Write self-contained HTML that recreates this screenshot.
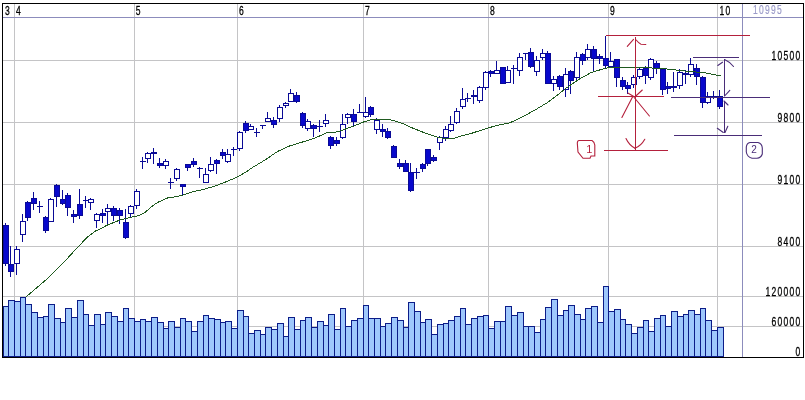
<!DOCTYPE html>
<html><head><meta charset="utf-8"><title>chart</title>
<style>html,body{margin:0;padding:0;background:#fff}svg{display:block}text{font-family:"Liberation Sans",sans-serif}</style></head>
<body>
<svg width="805" height="400" viewBox="0 0 805 400">
<rect width="805" height="400" fill="#fff"/>
<g shape-rendering="crispEdges" stroke="#c4c4c6" stroke-width="1">
<line x1="14.5" y1="4" x2="14.5" y2="357"/>
<line x1="134.5" y1="4" x2="134.5" y2="357"/>
<line x1="237.5" y1="4" x2="237.5" y2="357"/>
<line x1="363.5" y1="4" x2="363.5" y2="357"/>
<line x1="488.5" y1="4" x2="488.5" y2="357"/>
<line x1="608.5" y1="4" x2="608.5" y2="357"/>
<line x1="717.5" y1="4" x2="717.5" y2="357"/>
<line x1="3" y1="60.5" x2="803" y2="60.5"/>
<line x1="3" y1="122.5" x2="803" y2="122.5"/>
<line x1="3" y1="184.5" x2="803" y2="184.5"/>
<line x1="3" y1="246.5" x2="803" y2="246.5"/>
<line x1="3" y1="296.5" x2="803" y2="296.5"/>
<line x1="3" y1="326.5" x2="803" y2="326.5"/>
</g>
<g shape-rendering="crispEdges" stroke="#8c8cbc" stroke-width="1">
<line x1="3" y1="17.5" x2="803" y2="17.5"/><line x1="742.5" y1="4" x2="742.5" y2="357"/>
</g>
<g shape-rendering="crispEdges" fill="#9fc8fc" stroke="#0c1c88" stroke-width="1">
<rect x="3.5" y="306.5" width="5.0" height="50.0"/>
<rect x="8.5" y="300.5" width="6.0" height="56.0"/>
<rect x="14.5" y="301.5" width="6.0" height="55.0"/>
<rect x="20.5" y="297.5" width="5.0" height="59.0"/>
<rect x="25.5" y="304.5" width="6.0" height="52.0"/>
<rect x="31.5" y="312.5" width="6.0" height="44.0"/>
<rect x="37.5" y="317.5" width="6.0" height="39.0"/>
<rect x="43.5" y="316.5" width="5.0" height="40.0"/>
<rect x="48.5" y="304.5" width="6.0" height="52.0"/>
<rect x="54.5" y="318.5" width="6.0" height="38.0"/>
<rect x="60.5" y="322.5" width="5.0" height="34.0"/>
<rect x="65.5" y="308.5" width="6.0" height="48.0"/>
<rect x="71.5" y="317.5" width="6.0" height="39.0"/>
<rect x="77.5" y="300.5" width="6.0" height="56.0"/>
<rect x="83.5" y="314.5" width="5.0" height="42.0"/>
<rect x="88.5" y="325.5" width="6.0" height="31.0"/>
<rect x="94.5" y="314.5" width="6.0" height="42.0"/>
<rect x="100.5" y="324.5" width="5.0" height="32.0"/>
<rect x="105.5" y="312.5" width="6.0" height="44.0"/>
<rect x="111.5" y="316.5" width="6.0" height="40.0"/>
<rect x="117.5" y="321.5" width="6.0" height="35.0"/>
<rect x="123.5" y="308.5" width="5.0" height="48.0"/>
<rect x="128.5" y="318.5" width="6.0" height="38.0"/>
<rect x="134.5" y="321.5" width="6.0" height="35.0"/>
<rect x="140.5" y="319.5" width="5.0" height="37.0"/>
<rect x="145.5" y="321.5" width="6.0" height="35.0"/>
<rect x="151.5" y="317.5" width="6.0" height="39.0"/>
<rect x="157.5" y="322.5" width="6.0" height="34.0"/>
<rect x="163.5" y="328.5" width="5.0" height="28.0"/>
<rect x="168.5" y="321.5" width="6.0" height="35.0"/>
<rect x="174.5" y="327.5" width="6.0" height="29.0"/>
<rect x="180.5" y="318.5" width="5.0" height="38.0"/>
<rect x="185.5" y="321.5" width="6.0" height="35.0"/>
<rect x="191.5" y="331.5" width="6.0" height="25.0"/>
<rect x="197.5" y="321.5" width="6.0" height="35.0"/>
<rect x="203.5" y="315.5" width="5.0" height="41.0"/>
<rect x="208.5" y="318.5" width="6.0" height="38.0"/>
<rect x="214.5" y="319.5" width="6.0" height="37.0"/>
<rect x="220.5" y="322.5" width="5.0" height="34.0"/>
<rect x="225.5" y="321.5" width="6.0" height="35.0"/>
<rect x="231.5" y="328.5" width="6.0" height="28.0"/>
<rect x="237.5" y="310.5" width="6.0" height="46.0"/>
<rect x="243.5" y="316.5" width="5.0" height="40.0"/>
<rect x="248.5" y="333.5" width="6.0" height="23.0"/>
<rect x="254.5" y="330.5" width="6.0" height="26.0"/>
<rect x="260.5" y="334.5" width="5.0" height="22.0"/>
<rect x="265.5" y="327.5" width="6.0" height="29.0"/>
<rect x="271.5" y="329.5" width="6.0" height="27.0"/>
<rect x="277.5" y="323.5" width="6.0" height="33.0"/>
<rect x="283.5" y="336.5" width="5.0" height="20.0"/>
<rect x="288.5" y="317.5" width="6.0" height="39.0"/>
<rect x="294.5" y="329.5" width="6.0" height="27.0"/>
<rect x="300.5" y="320.5" width="5.0" height="36.0"/>
<rect x="305.5" y="317.5" width="6.0" height="39.0"/>
<rect x="311.5" y="327.5" width="6.0" height="29.0"/>
<rect x="317.5" y="321.5" width="6.0" height="35.0"/>
<rect x="323.5" y="325.5" width="5.0" height="31.0"/>
<rect x="328.5" y="314.5" width="6.0" height="42.0"/>
<rect x="334.5" y="329.5" width="6.0" height="27.0"/>
<rect x="340.5" y="308.5" width="5.0" height="48.0"/>
<rect x="345.5" y="326.5" width="6.0" height="30.0"/>
<rect x="351.5" y="320.5" width="6.0" height="36.0"/>
<rect x="357.5" y="318.5" width="6.0" height="38.0"/>
<rect x="363.5" y="305.5" width="5.0" height="51.0"/>
<rect x="368.5" y="318.5" width="6.0" height="38.0"/>
<rect x="374.5" y="318.5" width="6.0" height="38.0"/>
<rect x="380.5" y="326.5" width="5.0" height="30.0"/>
<rect x="385.5" y="323.5" width="6.0" height="33.0"/>
<rect x="391.5" y="317.5" width="6.0" height="39.0"/>
<rect x="397.5" y="320.5" width="6.0" height="36.0"/>
<rect x="403.5" y="327.5" width="5.0" height="29.0"/>
<rect x="408.5" y="302.5" width="6.0" height="54.0"/>
<rect x="414.5" y="311.5" width="6.0" height="45.0"/>
<rect x="420.5" y="322.5" width="5.0" height="34.0"/>
<rect x="425.5" y="319.5" width="6.0" height="37.0"/>
<rect x="431.5" y="334.5" width="6.0" height="22.0"/>
<rect x="437.5" y="324.5" width="6.0" height="32.0"/>
<rect x="443.5" y="323.5" width="5.0" height="33.0"/>
<rect x="448.5" y="320.5" width="6.0" height="36.0"/>
<rect x="454.5" y="316.5" width="6.0" height="40.0"/>
<rect x="460.5" y="308.5" width="5.0" height="48.0"/>
<rect x="465.5" y="324.5" width="6.0" height="32.0"/>
<rect x="471.5" y="318.5" width="6.0" height="38.0"/>
<rect x="477.5" y="316.5" width="6.0" height="40.0"/>
<rect x="483.5" y="315.5" width="5.0" height="41.0"/>
<rect x="488.5" y="328.5" width="6.0" height="28.0"/>
<rect x="494.5" y="321.5" width="6.0" height="35.0"/>
<rect x="500.5" y="321.5" width="5.0" height="35.0"/>
<rect x="505.5" y="306.5" width="6.0" height="50.0"/>
<rect x="511.5" y="315.5" width="6.0" height="41.0"/>
<rect x="517.5" y="312.5" width="6.0" height="44.0"/>
<rect x="523.5" y="326.5" width="5.0" height="30.0"/>
<rect x="528.5" y="326.5" width="6.0" height="30.0"/>
<rect x="534.5" y="332.5" width="6.0" height="24.0"/>
<rect x="540.5" y="319.5" width="5.0" height="37.0"/>
<rect x="545.5" y="307.5" width="6.0" height="49.0"/>
<rect x="551.5" y="299.5" width="6.0" height="57.0"/>
<rect x="557.5" y="315.5" width="6.0" height="41.0"/>
<rect x="563.5" y="310.5" width="5.0" height="46.0"/>
<rect x="568.5" y="305.5" width="6.0" height="51.0"/>
<rect x="574.5" y="314.5" width="6.0" height="42.0"/>
<rect x="580.5" y="319.5" width="5.0" height="37.0"/>
<rect x="585.5" y="308.5" width="6.0" height="48.0"/>
<rect x="591.5" y="306.5" width="6.0" height="50.0"/>
<rect x="597.5" y="322.5" width="6.0" height="34.0"/>
<rect x="603.5" y="286.5" width="5.0" height="70.0"/>
<rect x="608.5" y="311.5" width="6.0" height="45.0"/>
<rect x="614.5" y="309.5" width="6.0" height="47.0"/>
<rect x="620.5" y="319.5" width="5.0" height="37.0"/>
<rect x="625.5" y="324.5" width="6.0" height="32.0"/>
<rect x="631.5" y="333.5" width="6.0" height="23.0"/>
<rect x="637.5" y="327.5" width="6.0" height="29.0"/>
<rect x="643.5" y="320.5" width="5.0" height="36.0"/>
<rect x="648.5" y="331.5" width="6.0" height="25.0"/>
<rect x="654.5" y="318.5" width="6.0" height="38.0"/>
<rect x="660.5" y="315.5" width="5.0" height="41.0"/>
<rect x="665.5" y="326.5" width="6.0" height="30.0"/>
<rect x="671.5" y="311.5" width="6.0" height="45.0"/>
<rect x="677.5" y="316.5" width="6.0" height="40.0"/>
<rect x="683.5" y="314.5" width="5.0" height="42.0"/>
<rect x="688.5" y="310.5" width="6.0" height="46.0"/>
<rect x="694.5" y="314.5" width="6.0" height="42.0"/>
<rect x="700.5" y="308.5" width="5.0" height="48.0"/>
<rect x="705.5" y="320.5" width="6.0" height="36.0"/>
<rect x="711.5" y="330.5" width="6.0" height="26.0"/>
<rect x="717.5" y="327.5" width="6.0" height="29.0"/>
</g>
<g shape-rendering="crispEdges">
<rect x="5" y="223" width="1" height="43" fill="#0a0a96"/>
<rect x="3.5" y="225.5" width="5" height="38" fill="#0808cc" stroke="#0a0a96" stroke-width="1"/>
<rect x="10" y="246" width="1" height="31" fill="#0a0a96"/>
<rect x="8.5" y="264.5" width="5" height="7" fill="#0808cc" stroke="#0a0a96" stroke-width="1"/>
<rect x="16" y="246" width="1" height="29" fill="#0a0a96"/>
<rect x="14.5" y="249.5" width="5" height="14" fill="#fff" stroke="#0a0a96" stroke-width="1"/>
<rect x="22" y="214" width="1" height="28" fill="#0a0a96"/>
<rect x="20.5" y="221.5" width="5" height="13" fill="#fff" stroke="#0a0a96" stroke-width="1"/>
<rect x="27" y="201" width="1" height="20" fill="#0a0a96"/>
<rect x="25.5" y="202.5" width="5" height="15" fill="#0808cc" stroke="#0a0a96" stroke-width="1"/>
<rect x="33" y="192" width="1" height="18" fill="#0a0a96"/>
<rect x="31.5" y="198.5" width="5" height="5" fill="#0808cc" stroke="#0a0a96" stroke-width="1"/>
<rect x="39" y="201" width="1" height="12" fill="#0a0a96"/>
<rect x="37" y="206" width="6" height="1" fill="#0a0a96"/>
<rect x="45" y="216" width="1" height="17" fill="#0a0a96"/>
<rect x="43.5" y="217.5" width="5" height="13" fill="#0808cc" stroke="#0a0a96" stroke-width="1"/>
<rect x="50" y="198" width="1" height="24" fill="#0a0a96"/>
<rect x="48.5" y="199.5" width="5" height="22" fill="#fff" stroke="#0a0a96" stroke-width="1"/>
<rect x="56" y="184" width="1" height="23" fill="#0a0a96"/>
<rect x="54.5" y="185.5" width="5" height="11" fill="#0808cc" stroke="#0a0a96" stroke-width="1"/>
<rect x="62" y="190" width="1" height="15" fill="#0a0a96"/>
<rect x="60.5" y="199.5" width="5" height="4" fill="#0808cc" stroke="#0a0a96" stroke-width="1"/>
<rect x="67" y="193" width="1" height="23" fill="#0a0a96"/>
<rect x="65.5" y="195.5" width="5" height="12" fill="#0808cc" stroke="#0a0a96" stroke-width="1"/>
<rect x="73" y="210" width="1" height="13" fill="#0a0a96"/>
<rect x="71.5" y="214.5" width="5" height="2" fill="#0808cc" stroke="#0a0a96" stroke-width="1"/>
<rect x="79" y="189" width="1" height="30" fill="#0a0a96"/>
<rect x="77.5" y="204.5" width="5" height="11" fill="#0808cc" stroke="#0a0a96" stroke-width="1"/>
<rect x="85" y="196" width="1" height="12" fill="#0a0a96"/>
<rect x="83" y="200" width="6" height="1" fill="#0a0a96"/>
<rect x="90" y="198" width="1" height="12" fill="#0a0a96"/>
<rect x="88.5" y="199.5" width="5" height="3" fill="#fff" stroke="#0a0a96" stroke-width="1"/>
<rect x="96" y="213" width="1" height="15" fill="#0a0a96"/>
<rect x="94.5" y="214.5" width="5" height="6" fill="#fff" stroke="#0a0a96" stroke-width="1"/>
<rect x="102" y="209" width="1" height="14" fill="#0a0a96"/>
<rect x="100.5" y="213.5" width="5" height="2" fill="#0808cc" stroke="#0a0a96" stroke-width="1"/>
<rect x="107" y="204" width="1" height="20" fill="#0a0a96"/>
<rect x="105.5" y="208.5" width="5" height="3" fill="#fff" stroke="#0a0a96" stroke-width="1"/>
<rect x="113" y="206" width="1" height="15" fill="#0a0a96"/>
<rect x="111.5" y="208.5" width="5" height="7" fill="#0808cc" stroke="#0a0a96" stroke-width="1"/>
<rect x="119" y="208" width="1" height="16" fill="#0a0a96"/>
<rect x="117.5" y="210.5" width="5" height="5" fill="#0808cc" stroke="#0a0a96" stroke-width="1"/>
<rect x="125" y="209" width="1" height="30" fill="#0a0a96"/>
<rect x="123.5" y="222.5" width="5" height="15" fill="#0808cc" stroke="#0a0a96" stroke-width="1"/>
<rect x="130" y="205" width="1" height="12" fill="#0a0a96"/>
<rect x="128.5" y="206.5" width="5" height="7" fill="#fff" stroke="#0a0a96" stroke-width="1"/>
<rect x="136" y="189" width="1" height="20" fill="#0a0a96"/>
<rect x="134.5" y="191.5" width="5" height="14" fill="#fff" stroke="#0a0a96" stroke-width="1"/>
<rect x="142" y="157" width="1" height="12" fill="#0a0a96"/>
<rect x="140" y="161" width="6" height="1" fill="#0a0a96"/>
<rect x="147" y="152" width="1" height="11" fill="#0a0a96"/>
<rect x="145.5" y="153.5" width="5" height="5" fill="#fff" stroke="#0a0a96" stroke-width="1"/>
<rect x="153" y="148" width="1" height="16" fill="#0a0a96"/>
<rect x="151.5" y="152.5" width="5" height="1" fill="#0808cc" stroke="#0a0a96" stroke-width="1"/>
<rect x="159" y="158" width="1" height="10" fill="#0a0a96"/>
<rect x="157.5" y="163.5" width="5" height="2" fill="#0808cc" stroke="#0a0a96" stroke-width="1"/>
<rect x="165" y="159" width="1" height="10" fill="#0a0a96"/>
<rect x="163.5" y="161.5" width="5" height="4" fill="#fff" stroke="#0a0a96" stroke-width="1"/>
<rect x="170" y="178" width="1" height="11" fill="#0a0a96"/>
<rect x="168" y="182" width="6" height="1" fill="#0a0a96"/>
<rect x="176" y="168" width="1" height="13" fill="#0a0a96"/>
<rect x="174.5" y="169.5" width="5" height="9" fill="#fff" stroke="#0a0a96" stroke-width="1"/>
<rect x="182" y="184" width="1" height="11" fill="#0a0a96"/>
<rect x="180.5" y="184.5" width="5" height="2" fill="#0808cc" stroke="#0a0a96" stroke-width="1"/>
<rect x="187" y="164" width="1" height="7" fill="#0a0a96"/>
<rect x="185.5" y="164.5" width="5" height="3" fill="#0808cc" stroke="#0a0a96" stroke-width="1"/>
<rect x="193" y="158" width="1" height="9" fill="#0a0a96"/>
<rect x="191.5" y="161.5" width="5" height="3" fill="#0808cc" stroke="#0a0a96" stroke-width="1"/>
<rect x="199" y="167" width="1" height="11" fill="#0a0a96"/>
<rect x="197" y="168" width="6" height="1" fill="#0a0a96"/>
<rect x="205" y="168" width="1" height="15" fill="#0a0a96"/>
<rect x="203.5" y="174.5" width="5" height="8" fill="#fff" stroke="#0a0a96" stroke-width="1"/>
<rect x="210" y="157" width="1" height="15" fill="#0a0a96"/>
<rect x="208.5" y="164.5" width="5" height="6" fill="#fff" stroke="#0a0a96" stroke-width="1"/>
<rect x="216" y="159" width="1" height="15" fill="#0a0a96"/>
<rect x="214.5" y="160.5" width="5" height="3" fill="#0808cc" stroke="#0a0a96" stroke-width="1"/>
<rect x="222" y="149" width="1" height="10" fill="#0a0a96"/>
<rect x="220.5" y="152.5" width="5" height="3" fill="#0808cc" stroke="#0a0a96" stroke-width="1"/>
<rect x="227" y="149" width="1" height="14" fill="#0a0a96"/>
<rect x="225.5" y="154.5" width="5" height="7" fill="#fff" stroke="#0a0a96" stroke-width="1"/>
<rect x="233" y="147" width="1" height="9" fill="#0a0a96"/>
<rect x="231" y="149" width="6" height="1" fill="#0a0a96"/>
<rect x="239" y="131" width="1" height="20" fill="#0a0a96"/>
<rect x="237.5" y="132.5" width="5" height="16" fill="#fff" stroke="#0a0a96" stroke-width="1"/>
<rect x="245" y="121" width="1" height="12" fill="#0a0a96"/>
<rect x="243.5" y="123.5" width="5" height="7" fill="#0808cc" stroke="#0a0a96" stroke-width="1"/>
<rect x="250" y="124" width="1" height="6" fill="#0a0a96"/>
<rect x="248.5" y="126.5" width="5" height="3" fill="#fff" stroke="#0a0a96" stroke-width="1"/>
<rect x="256" y="128" width="1" height="9" fill="#0a0a96"/>
<rect x="254" y="132" width="6" height="1" fill="#0a0a96"/>
<rect x="262" y="125" width="1" height="4" fill="#0a0a96"/>
<rect x="260" y="125" width="6" height="1" fill="#0a0a96"/>
<rect x="267" y="112" width="1" height="10" fill="#0a0a96"/>
<rect x="265.5" y="118.5" width="5" height="3" fill="#fff" stroke="#0a0a96" stroke-width="1"/>
<rect x="273" y="117" width="1" height="11" fill="#0a0a96"/>
<rect x="271.5" y="120.5" width="5" height="4" fill="#0808cc" stroke="#0a0a96" stroke-width="1"/>
<rect x="279" y="105" width="1" height="17" fill="#0a0a96"/>
<rect x="277.5" y="107.5" width="5" height="11" fill="#fff" stroke="#0a0a96" stroke-width="1"/>
<rect x="285" y="102" width="1" height="6" fill="#0a0a96"/>
<rect x="283.5" y="103.5" width="5" height="2" fill="#fff" stroke="#0a0a96" stroke-width="1"/>
<rect x="290" y="89" width="1" height="13" fill="#0a0a96"/>
<rect x="288.5" y="93.5" width="5" height="8" fill="#fff" stroke="#0a0a96" stroke-width="1"/>
<rect x="296" y="92" width="1" height="11" fill="#0a0a96"/>
<rect x="294.5" y="95.5" width="5" height="6" fill="#0808cc" stroke="#0a0a96" stroke-width="1"/>
<rect x="302" y="112" width="1" height="16" fill="#0a0a96"/>
<rect x="300.5" y="113.5" width="5" height="12" fill="#0808cc" stroke="#0a0a96" stroke-width="1"/>
<rect x="307" y="119" width="1" height="12" fill="#0a0a96"/>
<rect x="305.5" y="121.5" width="5" height="7" fill="#fff" stroke="#0a0a96" stroke-width="1"/>
<rect x="313" y="124" width="1" height="13" fill="#0a0a96"/>
<rect x="311.5" y="125.5" width="5" height="3" fill="#0808cc" stroke="#0a0a96" stroke-width="1"/>
<rect x="319" y="120" width="1" height="12" fill="#0a0a96"/>
<rect x="317" y="126" width="6" height="1" fill="#0a0a96"/>
<rect x="325" y="114" width="1" height="13" fill="#0a0a96"/>
<rect x="323.5" y="120.5" width="5" height="3" fill="#fff" stroke="#0a0a96" stroke-width="1"/>
<rect x="330" y="136" width="1" height="13" fill="#0a0a96"/>
<rect x="328.5" y="137.5" width="5" height="8" fill="#0808cc" stroke="#0a0a96" stroke-width="1"/>
<rect x="336" y="137" width="1" height="9" fill="#0a0a96"/>
<rect x="334.5" y="140.5" width="5" height="3" fill="#0808cc" stroke="#0a0a96" stroke-width="1"/>
<rect x="342" y="114" width="1" height="25" fill="#0a0a96"/>
<rect x="340.5" y="124.5" width="5" height="13" fill="#fff" stroke="#0a0a96" stroke-width="1"/>
<rect x="347" y="113" width="1" height="11" fill="#0a0a96"/>
<rect x="345.5" y="114.5" width="5" height="3" fill="#fff" stroke="#0a0a96" stroke-width="1"/>
<rect x="353" y="109" width="1" height="17" fill="#0a0a96"/>
<rect x="351.5" y="114.5" width="5" height="7" fill="#0808cc" stroke="#0a0a96" stroke-width="1"/>
<rect x="359" y="104" width="1" height="9" fill="#0a0a96"/>
<rect x="357" y="112" width="6" height="1" fill="#0a0a96"/>
<rect x="365" y="97" width="1" height="21" fill="#0a0a96"/>
<rect x="363.5" y="112.5" width="5" height="4" fill="#fff" stroke="#0a0a96" stroke-width="1"/>
<rect x="370" y="106" width="1" height="11" fill="#0a0a96"/>
<rect x="368.5" y="107.5" width="5" height="7" fill="#0808cc" stroke="#0a0a96" stroke-width="1"/>
<rect x="376" y="118" width="1" height="16" fill="#0a0a96"/>
<rect x="374.5" y="120.5" width="5" height="9" fill="#fff" stroke="#0a0a96" stroke-width="1"/>
<rect x="382" y="124" width="1" height="13" fill="#0a0a96"/>
<rect x="380.5" y="129.5" width="5" height="2" fill="#0808cc" stroke="#0a0a96" stroke-width="1"/>
<rect x="387" y="128" width="1" height="11" fill="#0a0a96"/>
<rect x="385.5" y="131.5" width="5" height="6" fill="#0808cc" stroke="#0a0a96" stroke-width="1"/>
<rect x="393" y="145" width="1" height="13" fill="#0a0a96"/>
<rect x="391.5" y="146.5" width="5" height="11" fill="#0808cc" stroke="#0a0a96" stroke-width="1"/>
<rect x="399" y="159" width="1" height="10" fill="#0a0a96"/>
<rect x="397.5" y="163.5" width="5" height="3" fill="#0808cc" stroke="#0a0a96" stroke-width="1"/>
<rect x="405" y="160" width="1" height="12" fill="#0a0a96"/>
<rect x="403.5" y="163.5" width="5" height="8" fill="#0808cc" stroke="#0a0a96" stroke-width="1"/>
<rect x="410" y="163" width="1" height="29" fill="#0a0a96"/>
<rect x="408.5" y="172.5" width="5" height="18" fill="#0808cc" stroke="#0a0a96" stroke-width="1"/>
<rect x="416" y="168" width="1" height="11" fill="#0a0a96"/>
<rect x="414" y="172" width="6" height="1" fill="#0a0a96"/>
<rect x="422" y="163" width="1" height="9" fill="#0a0a96"/>
<rect x="420.5" y="164.5" width="5" height="4" fill="#0808cc" stroke="#0a0a96" stroke-width="1"/>
<rect x="427" y="149" width="1" height="17" fill="#0a0a96"/>
<rect x="425.5" y="149.5" width="5" height="14" fill="#0808cc" stroke="#0a0a96" stroke-width="1"/>
<rect x="433" y="155" width="1" height="7" fill="#0a0a96"/>
<rect x="431.5" y="157.5" width="5" height="3" fill="#0808cc" stroke="#0a0a96" stroke-width="1"/>
<rect x="439" y="136" width="1" height="14" fill="#0a0a96"/>
<rect x="437.5" y="137.5" width="5" height="5" fill="#fff" stroke="#0a0a96" stroke-width="1"/>
<rect x="445" y="126" width="1" height="15" fill="#0a0a96"/>
<rect x="443.5" y="129.5" width="5" height="8" fill="#fff" stroke="#0a0a96" stroke-width="1"/>
<rect x="450" y="116" width="1" height="16" fill="#0a0a96"/>
<rect x="448.5" y="124.5" width="5" height="6" fill="#fff" stroke="#0a0a96" stroke-width="1"/>
<rect x="456" y="108" width="1" height="16" fill="#0a0a96"/>
<rect x="454.5" y="111.5" width="5" height="11" fill="#fff" stroke="#0a0a96" stroke-width="1"/>
<rect x="462" y="88" width="1" height="21" fill="#0a0a96"/>
<rect x="460.5" y="99.5" width="5" height="7" fill="#fff" stroke="#0a0a96" stroke-width="1"/>
<rect x="467" y="93" width="1" height="9" fill="#0a0a96"/>
<rect x="465" y="98" width="6" height="1" fill="#0a0a96"/>
<rect x="473" y="90" width="1" height="14" fill="#0a0a96"/>
<rect x="471.5" y="95.5" width="5" height="1" fill="#0808cc" stroke="#0a0a96" stroke-width="1"/>
<rect x="479" y="86" width="1" height="17" fill="#0a0a96"/>
<rect x="477.5" y="87.5" width="5" height="13" fill="#fff" stroke="#0a0a96" stroke-width="1"/>
<rect x="485" y="71" width="1" height="19" fill="#0a0a96"/>
<rect x="483.5" y="72.5" width="5" height="15" fill="#fff" stroke="#0a0a96" stroke-width="1"/>
<rect x="490" y="70" width="1" height="7" fill="#0a0a96"/>
<rect x="488.5" y="71.5" width="5" height="2" fill="#0808cc" stroke="#0a0a96" stroke-width="1"/>
<rect x="496" y="61" width="1" height="13" fill="#0a0a96"/>
<rect x="494.5" y="70.5" width="5" height="3" fill="#fff" stroke="#0a0a96" stroke-width="1"/>
<rect x="502" y="67" width="1" height="17" fill="#0a0a96"/>
<rect x="500.5" y="67.5" width="5" height="16" fill="#0808cc" stroke="#0a0a96" stroke-width="1"/>
<rect x="507" y="66" width="1" height="17" fill="#0a0a96"/>
<rect x="505.5" y="70.5" width="5" height="12" fill="#fff" stroke="#0a0a96" stroke-width="1"/>
<rect x="513" y="65" width="1" height="19" fill="#0a0a96"/>
<rect x="511" y="68" width="6" height="1" fill="#0a0a96"/>
<rect x="519" y="53" width="1" height="23" fill="#0a0a96"/>
<rect x="517.5" y="57.5" width="5" height="13" fill="#fff" stroke="#0a0a96" stroke-width="1"/>
<rect x="525" y="53" width="1" height="7" fill="#0a0a96"/>
<rect x="523" y="53" width="6" height="1" fill="#0a0a96"/>
<rect x="530" y="48" width="1" height="20" fill="#0a0a96"/>
<rect x="528.5" y="52.5" width="5" height="14" fill="#0808cc" stroke="#0a0a96" stroke-width="1"/>
<rect x="536" y="56" width="1" height="20" fill="#0a0a96"/>
<rect x="534.5" y="60.5" width="5" height="11" fill="#fff" stroke="#0a0a96" stroke-width="1"/>
<rect x="542" y="49" width="1" height="11" fill="#0a0a96"/>
<rect x="540.5" y="53.5" width="5" height="4" fill="#fff" stroke="#0a0a96" stroke-width="1"/>
<rect x="547" y="51" width="1" height="33" fill="#0a0a96"/>
<rect x="545.5" y="53.5" width="5" height="30" fill="#0808cc" stroke="#0a0a96" stroke-width="1"/>
<rect x="553" y="76" width="1" height="15" fill="#0a0a96"/>
<rect x="551.5" y="79.5" width="5" height="4" fill="#fff" stroke="#0a0a96" stroke-width="1"/>
<rect x="559" y="75" width="1" height="15" fill="#0a0a96"/>
<rect x="557.5" y="76.5" width="5" height="10" fill="#0808cc" stroke="#0a0a96" stroke-width="1"/>
<rect x="565" y="68" width="1" height="29" fill="#0a0a96"/>
<rect x="563.5" y="74.5" width="5" height="15" fill="#fff" stroke="#0a0a96" stroke-width="1"/>
<rect x="570" y="70" width="1" height="24" fill="#0a0a96"/>
<rect x="568.5" y="71.5" width="5" height="9" fill="#0808cc" stroke="#0a0a96" stroke-width="1"/>
<rect x="576" y="52" width="1" height="29" fill="#0a0a96"/>
<rect x="574.5" y="57.5" width="5" height="20" fill="#fff" stroke="#0a0a96" stroke-width="1"/>
<rect x="582" y="53" width="1" height="12" fill="#0a0a96"/>
<rect x="580.5" y="54.5" width="5" height="6" fill="#0808cc" stroke="#0a0a96" stroke-width="1"/>
<rect x="587" y="44" width="1" height="16" fill="#0a0a96"/>
<rect x="585.5" y="49.5" width="5" height="8" fill="#fff" stroke="#0a0a96" stroke-width="1"/>
<rect x="593" y="46" width="1" height="25" fill="#0a0a96"/>
<rect x="591.5" y="49.5" width="5" height="9" fill="#0808cc" stroke="#0a0a96" stroke-width="1"/>
<rect x="599" y="54" width="1" height="10" fill="#0a0a96"/>
<rect x="597.5" y="56.5" width="5" height="2" fill="#0808cc" stroke="#0a0a96" stroke-width="1"/>
<rect x="605" y="36" width="1" height="32" fill="#0a0a96"/>
<rect x="603.5" y="58.5" width="5" height="7" fill="#0808cc" stroke="#0a0a96" stroke-width="1"/>
<rect x="610" y="52" width="1" height="15" fill="#0a0a96"/>
<rect x="608.5" y="61.5" width="5" height="5" fill="#fff" stroke="#0a0a96" stroke-width="1"/>
<rect x="616" y="59" width="1" height="28" fill="#0a0a96"/>
<rect x="614.5" y="59.5" width="5" height="18" fill="#0808cc" stroke="#0a0a96" stroke-width="1"/>
<rect x="622" y="77" width="1" height="13" fill="#0a0a96"/>
<rect x="620.5" y="80.5" width="5" height="6" fill="#0808cc" stroke="#0a0a96" stroke-width="1"/>
<rect x="627" y="82" width="1" height="12" fill="#0a0a96"/>
<rect x="625.5" y="85.5" width="5" height="3" fill="#0808cc" stroke="#0a0a96" stroke-width="1"/>
<rect x="633" y="75" width="1" height="13" fill="#0a0a96"/>
<rect x="631.5" y="77.5" width="5" height="7" fill="#fff" stroke="#0a0a96" stroke-width="1"/>
<rect x="639" y="68" width="1" height="11" fill="#0a0a96"/>
<rect x="637.5" y="69.5" width="5" height="7" fill="#fff" stroke="#0a0a96" stroke-width="1"/>
<rect x="645" y="66" width="1" height="18" fill="#0a0a96"/>
<rect x="643.5" y="68.5" width="5" height="7" fill="#0808cc" stroke="#0a0a96" stroke-width="1"/>
<rect x="650" y="58" width="1" height="22" fill="#0a0a96"/>
<rect x="648.5" y="59.5" width="5" height="18" fill="#fff" stroke="#0a0a96" stroke-width="1"/>
<rect x="656" y="61" width="1" height="13" fill="#0a0a96"/>
<rect x="654.5" y="63.5" width="5" height="5" fill="#0808cc" stroke="#0a0a96" stroke-width="1"/>
<rect x="662" y="68" width="1" height="27" fill="#0a0a96"/>
<rect x="660.5" y="69.5" width="5" height="20" fill="#0808cc" stroke="#0a0a96" stroke-width="1"/>
<rect x="667" y="82" width="1" height="12" fill="#0a0a96"/>
<rect x="665.5" y="86.5" width="5" height="2" fill="#0808cc" stroke="#0a0a96" stroke-width="1"/>
<rect x="673" y="72" width="1" height="20" fill="#0a0a96"/>
<rect x="671.5" y="86.5" width="5" height="1" fill="#0808cc" stroke="#0a0a96" stroke-width="1"/>
<rect x="679" y="69" width="1" height="20" fill="#0a0a96"/>
<rect x="677.5" y="72.5" width="5" height="13" fill="#fff" stroke="#0a0a96" stroke-width="1"/>
<rect x="685" y="70" width="1" height="14" fill="#0a0a96"/>
<rect x="683.5" y="73.5" width="5" height="1" fill="#0808cc" stroke="#0a0a96" stroke-width="1"/>
<rect x="690" y="58" width="1" height="19" fill="#0a0a96"/>
<rect x="688.5" y="64.5" width="5" height="10" fill="#fff" stroke="#0a0a96" stroke-width="1"/>
<rect x="696" y="64" width="1" height="21" fill="#0a0a96"/>
<rect x="694.5" y="68.5" width="5" height="8" fill="#0808cc" stroke="#0a0a96" stroke-width="1"/>
<rect x="702" y="76" width="1" height="32" fill="#0a0a96"/>
<rect x="700.5" y="77.5" width="5" height="25" fill="#0808cc" stroke="#0a0a96" stroke-width="1"/>
<rect x="707" y="92" width="1" height="12" fill="#0a0a96"/>
<rect x="705.5" y="96.5" width="5" height="6" fill="#fff" stroke="#0a0a96" stroke-width="1"/>
<rect x="713" y="91" width="1" height="8" fill="#0a0a96"/>
<rect x="711" y="96" width="6" height="1" fill="#0a0a96"/>
<rect x="719" y="90" width="1" height="19" fill="#0a0a96"/>
<rect x="717.5" y="96.5" width="5" height="10" fill="#0808cc" stroke="#0a0a96" stroke-width="1"/>
</g>
<polyline points="26,297 48.75,277.5 56,270 66,260 75,250 87.5,237 95,231.25 100,229 107.5,225 120,220 132.5,216.9 138.75,215.6 145,212.5 151.25,206.9 157.5,202.5 166.9,198.1 175,196.9 182.5,195.25 188.75,193 195,191.2 202.5,189.75 215,186 227.5,181.25 237.5,176.9 246.25,171.9 252.5,167.5 265,160 277.5,151.5 290,145.8 302.5,142 311,139.5 317.5,136.9 326.25,133 337.5,131.9 346.25,128.75 355,125.6 363.75,121.9 371.25,119.75 380,119 390,119.6 398.75,122.2 405,124.4 411.25,127.5 423.75,132.5 436.25,136.9 445,138.5 455,138.1 460,136.25 472.5,133 488.75,127.75 500,124.75 510,122.75 522.5,116.9 535,110 547.5,102.5 556.25,96 566.25,88 578.75,79.4 591.25,72.5 603.75,68.75 608.75,67.5 615,67.25 635,67.25 662.5,68.5 687.5,71.25 706.25,73 721.25,76" fill="none" stroke="#1f5a1f" stroke-width="1" shape-rendering="crispEdges"/>
<g fill="none" stroke="#b4203c" stroke-width="1" shape-rendering="crispEdges">
<path d="M606 35.5H750"/>
<path d="M598 96.5H664"/>
<path d="M604 150.5H668"/>
<path d="M635.5 37V150"/>
</g>
<g fill="none" stroke="#b4203c" stroke-width="1.1" stroke-linecap="round">
<path d="M627.3 46.3L633.5 39.3"/><path d="M636.2 40Q639 43.5 641 44.2L645.8 44.5"/>
<path d="M627.8 93L633.8 96.5"/><path d="M635.3 96.5L642.3 90"/>
<path d="M621.9 117.5L632.5 97"/><path d="M633.8 97L649.4 116"/>
<path d="M626 138.5Q629 145 635 148.3"/><path d="M644.8 139.3Q641 146 635 148.3"/>
<path d="M579 140.5H592Q594.5 142 594.8 145V156H591L590 158.3H583L578 152L577.3 143Q577.5 140.5 579 140.5Z"/>
</g>
<g fill="none" stroke="#4a2d78" stroke-width="1" shape-rendering="crispEdges">
<path d="M693 57.5H739"/>
<path d="M671 97.5H770"/>
<path d="M674 135.5H762"/>
<path d="M724.5 59V96"/><path d="M724.5 101V133"/>
</g>
<g fill="none" stroke="#4a2d78" stroke-width="1.1" stroke-linecap="round">
<path d="M717.8 65.5L722.5 62.2"/><path d="M725 59.8Q730 62 733.5 66.5"/>
<path d="M724.6 96L729.8 90.3"/><path d="M724 101L728 105"/>
<path d="M717.3 128.3L723.3 132.5"/><path d="M727.8 126.2L725 132.5"/>
<path d="M750 142.5H758Q762 143.5 762.3 148V154Q761 158 757 158.3H752Q747 157 746.3 152V147Q746.8 143 750 142.5Z"/>
</g>
<text x="586.2" y="153" font-size="11" fill="#b4203c">1</text>
<text x="751.3" y="153.3" font-size="10" fill="#4a2d78">2</text>
<g shape-rendering="crispEdges" fill="#000">
<rect x="2" y="3" width="802" height="1"/>
<rect x="2" y="3" width="1" height="355"/>
<rect x="803" y="3" width="1" height="355"/>
<rect x="2" y="357" width="802" height="1"/>
</g>
<text transform="translate(4.95,14.8) scale(0.7,1)" font-size="12.2" letter-spacing="1.786" fill="#000" stroke="#000" stroke-width="0.3">3</text>
<text transform="translate(15.95,14.8) scale(0.7,1)" font-size="12.2" letter-spacing="1.786" fill="#000" stroke="#000" stroke-width="0.3">4</text>
<text transform="translate(135.75,14.8) scale(0.7,1)" font-size="12.2" letter-spacing="1.786" fill="#000" stroke="#000" stroke-width="0.3">5</text>
<text transform="translate(238.95,14.8) scale(0.7,1)" font-size="12.2" letter-spacing="1.786" fill="#000" stroke="#000" stroke-width="0.3">6</text>
<text transform="translate(364.95,14.8) scale(0.7,1)" font-size="12.2" letter-spacing="1.786" fill="#000" stroke="#000" stroke-width="0.3">7</text>
<text transform="translate(489.95,14.8) scale(0.7,1)" font-size="12.2" letter-spacing="1.786" fill="#000" stroke="#000" stroke-width="0.3">8</text>
<text transform="translate(609.95,14.8) scale(0.7,1)" font-size="12.2" letter-spacing="1.786" fill="#000" stroke="#000" stroke-width="0.3">9</text>
<text transform="translate(719.45,14.8) scale(0.7,1)" font-size="12.2" letter-spacing="1.786" fill="#000" stroke="#000" stroke-width="0.3">10</text>
<text transform="translate(752.95,14.2) scale(0.7,1)" font-size="12.2" letter-spacing="1.786" fill="#9a9ac8" stroke="#9a9ac8" stroke-width="0.2">10995</text>
<text transform="translate(771.45,59.7) scale(0.7,1)" font-size="12.2" letter-spacing="1.786" fill="#000" stroke="#000" stroke-width="0.3">10500</text>
<text transform="translate(777.45,121.7) scale(0.7,1)" font-size="12.2" letter-spacing="1.786" fill="#000" stroke="#000" stroke-width="0.3">9800</text>
<text transform="translate(777.45,183.7) scale(0.7,1)" font-size="12.2" letter-spacing="1.786" fill="#000" stroke="#000" stroke-width="0.3">9100</text>
<text transform="translate(777.45,245.7) scale(0.7,1)" font-size="12.2" letter-spacing="1.786" fill="#000" stroke="#000" stroke-width="0.3">8400</text>
<text transform="translate(765.45,295.7) scale(0.7,1)" font-size="12.2" letter-spacing="1.786" fill="#000" stroke="#000" stroke-width="0.3">120000</text>
<text transform="translate(771.45,325.7) scale(0.7,1)" font-size="12.2" letter-spacing="1.786" fill="#000" stroke="#000" stroke-width="0.3">60000</text>
<text transform="translate(795.45,356.3) scale(0.7,1)" font-size="12.2" letter-spacing="1.786" fill="#000" stroke="#000" stroke-width="0.3">0</text>
</svg>
</body></html>
